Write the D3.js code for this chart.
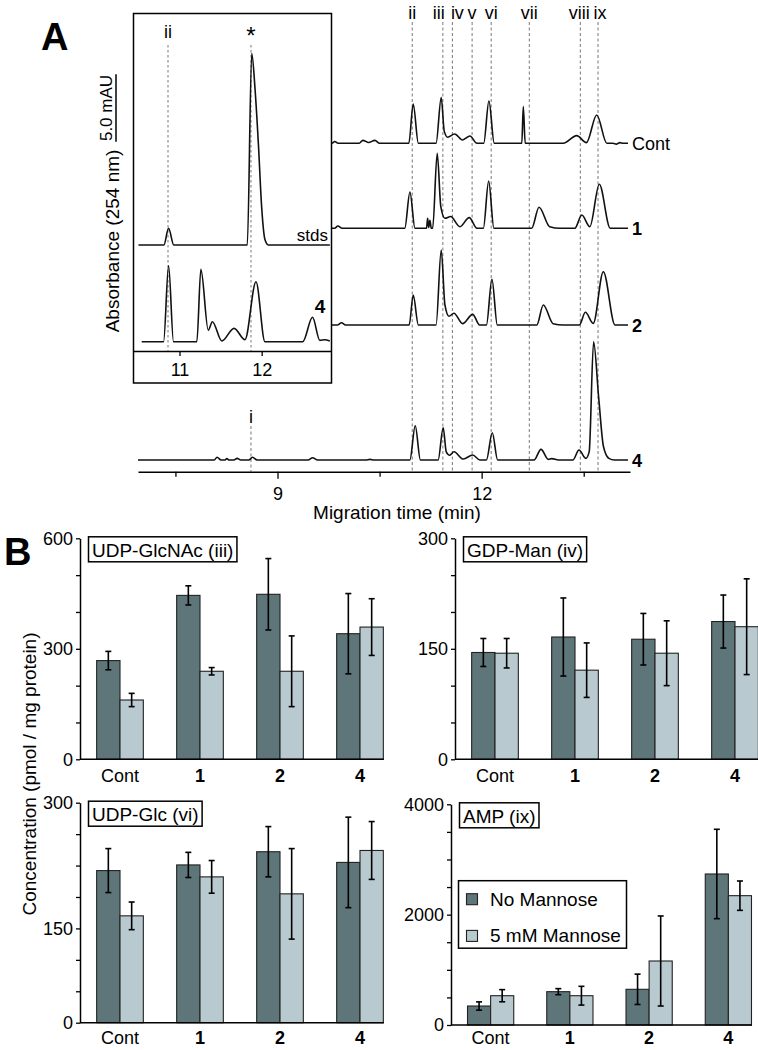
<!DOCTYPE html>
<html>
<head>
<meta charset="utf-8">
<script src="https://cdn.jsdelivr.net/npm/d3@7"></script>
<style>
  body { margin: 0; background: #fff; }
  svg { display: block; }
</style>
</head>
<body>
<div id="chart"></div>
<script>
var width  = 758;
var height = 1050;
var font   = "'Liberation Sans', Arial, Helvetica, sans-serif";

// ---------------- Panel A : electropherograms ----------------
var markerNames = ["ii", "iii", "iv", "v", "vi", "vii", "viii", "ix"];
var markerTimes = [10.98, 11.43, 11.57, 11.86, 12.14, 12.70, 13.45, 13.71];
var markerITime = 8.61;
var timeTicks   = [7.5, 9, 10.5, 12, 13.5];
var timeLabels  = [9, 12];

var traceLabels = ["Cont", "1", "2", "4"];
// [migration time (min), absorbance (mAU)]
var traceCont = [
  [6.95,0],[9.80,0],[9.843,0.13],[9.89,0],[10.20,0],[10.254,0.22],[10.34,0.06],[10.431,0.22],[10.50,0],
  [10.93,0],[10.994,2.91],[11.07,0],
  [11.33,0],[11.406,3.39],[11.45,0.9],[11.50,0.45],[11.603,0.69],[11.72,0.25],[11.828,0.54],[11.93,0],
  [12.03,0],[12.107,3.13],[12.185,0],
  [12.59,0],[12.612,2.72],[12.64,0],
  [13.20,0],[13.397,0.57],[13.54,0.05],[13.691,2.10],[13.84,0],
  [13.93,0],[13.98,-0.06],[14.03,0.05],[14.08,0],[14.151,0]
];
var trace1 = [
  [6.95,0],[9.84,0],[9.887,0.17],[9.95,0],
  [10.87,0],[10.946,2.69],[11.02,0],
  [11.19,0],[11.206,0.74],[11.222,0.05],[11.240,0.59],[11.26,0],[11.28,0],[11.347,5.56],[11.40,1.6],[11.46,0.74],
  [11.544,0.87],[11.68,0.12],[11.818,0.79],[11.93,0],
  [12.025,0],[12.103,3.50],[12.18,0],
  [12.735,0],[12.843,1.56],[13.0,0.12],[13.15,0],
  [13.37,0],[13.471,0.99],[13.59,0.12],[13.729,3.26],[13.89,0],[14.151,0]
];
var trace2 = [
  [6.95,0],[9.88,0],[9.941,0.17],[10.0,0],
  [10.935,0],[10.994,2.22],[11.07,0],
  [11.33,0],[11.406,5.56],[11.46,1.5],[11.52,0.65],[11.593,0.87],[11.72,0.1],[11.868,0.79],[11.97,0],
  [12.07,0],[12.151,3.39],[12.23,0],
  [12.81,0],[12.906,1.48],[13.05,0.1],[13.20,0],
  [13.435,0],[13.524,0.94],[13.64,0.12],[13.788,3.95],[13.96,0],[14.151,0]
];
var trace4 = [
  [6.95,0],[8.07,0],[8.112,0.2],[8.17,0],[8.23,0],[8.254,0.1],[8.29,0],[8.36,0],[8.406,0.12],[8.46,0],
  [8.58,0],[8.632,0.2],[8.70,0],
  [9.45,0],[9.515,0.17],[9.59,0],[10.30,0],[10.357,0.05],[10.42,0],
  [10.945,0],[11.024,2.54],[11.10,0],
  [11.36,0],[11.435,2.39],[11.48,0.6],[11.53,0.35],[11.593,0.61],[11.73,0.07],[11.868,0.37],[11.975,0],
  [12.07,0],[12.156,2.02],[12.235,0],
  [12.77,0],[12.872,0.79],[12.98,0.05],[13.03,0.1],[13.13,0],
  [13.34,0],[13.431,0.74],[13.53,0.12],[13.58,0.6],[13.645,8.76],[13.72,4.6],[13.79,1.0],[13.87,0.12],[13.95,0],[14.151,0]
];

// inset (standards run and sample 4)
var insetNames = ["ii", "*"];
var insetTimes = [10.86, 11.87];
var insetTicks = [11, 12];
var insetStds = [
  [10.50,0],[10.81,0],[10.867,1.24],[10.93,0],[11.825,0],[11.879,14.2],[11.92,11.5],[11.96,7.5],
  [12.0,2.8],[12.04,0.4],[12.08,0],[12.83,0]
];
var inset4 = [
  [10.54,0],[10.806,0],[10.867,5.63],[10.927,0],[11.211,0],[11.260,5.36],[11.35,0.86],[11.40,1.48],
  [11.515,0.05],[11.664,0.99],[11.797,0.15],[11.931,4.44],[12.04,0],[12.50,0],[12.619,1.81],[12.708,0.1],
  [12.768,0.15],[12.829,0.05]
];

// ---------------- Panel B : nucleotide sugar levels ----------------
var groups      = ["Cont", "1", "2", "4"];
var seriesNames = ["No Mannose", "5 mM Mannose"];

var glcnacNo     = [268, 445, 448, 341];
var glcnacNoErr  = [25, 26, 97, 109];
var glcnacMan    = [161, 239, 239, 359];
var glcnacManErr = [18, 10, 96, 77];

var gdpmanNo     = [145, 166, 163, 187];
var gdpmanNoErr  = [19, 53, 35, 36];
var gdpmanMan    = [144, 121, 144, 180];
var gdpmanManErr = [20, 37, 44, 65];

var udpglcNo     = [242, 251, 272, 255];
var udpglcNoErr  = [35, 20, 40, 72];
var udpglcMan    = [170, 232, 205, 274];
var udpglcManErr = [22, 26, 72, 46];

var ampNo     = [344, 604, 647, 2737];
var ampNoErr  = [75, 55, 275, 810];
var ampMan    = [531, 531, 1160, 2344];
var ampManErr = [110, 170, 816, 266];

var glcnacTicks = [0, 100, 200, 300, 400, 500, 600];
var glcnacTickText = ["0", "", "", "300", "", "", "600"];
var gdpmanTicks = [0, 50, 100, 150, 200, 250, 300];
var gdpmanTickText = ["0", "", "", "150", "", "", "300"];
var udpglcTicks = [0, 50, 100, 150, 200, 250, 300, 350];
var udpglcTickText = ["0", "", "", "150", "", "", "", "300"];
var ampTicks = [0, 500, 1000, 1500, 2000, 2500, 3000, 3500, 4000];
var ampTickText = ["0", "", "", "", "2000", "", "", "", "4000"];

var colDark  = "#5e7679";
var colLight = "#b8cacf";

var svg = d3.select("#chart").append("svg")
  .attr("width", width).attr("height", height)
  .attr("font-family", font);

// ================= Panel A =================
var xMain  = d3.scaleLinear().domain([6.95, 14.18]).range([138, 630]);
var xInset = d3.scaleLinear().domain([10.44, 12.85]).range([133.5, 331.5]);
var yAbs   = d3.scaleLinear().domain([0, 5]).range([0, -67.5]);   // mAU -> px offset
var traceBase = [143.3, 228.3, 325, 460];
var axisAy = 471.7;

var lineMain = d3.line().x(function(d) { return xMain(d[0]); }).y(function(d) { return yAbs(d[1]); })
  .curve(d3.curveMonotoneX);
var lineInset = d3.line().x(function(d) { return xInset(d[0]); }).y(function(d) { return yAbs(d[1]); })
  .curve(d3.curveMonotoneX);

var gA = svg.append("g");

// dashed marker lines
gA.selectAll("line.mark").data(markerTimes).enter().append("line")
  .attr("x1", function(d) { return xMain(d); }).attr("x2", function(d) { return xMain(d); })
  .attr("y1", 22).attr("y2", axisAy)
  .attr("stroke", "#777").attr("stroke-width", 1).attr("stroke-dasharray", "3,2.5");
var labelShift = [0, -4, 5, 0, 0, 0, -1, 2];
gA.selectAll("text.mark").data(markerNames).enter().append("text")
  .attr("x", function(d, i) { return xMain(markerTimes[i]) + labelShift[i]; })
  .attr("y", 18.5).attr("text-anchor", "middle").attr("font-size", 18).text(function(d) { return d; });

gA.append("line")
  .attr("x1", xMain(markerITime)).attr("x2", xMain(markerITime))
  .attr("y1", 426).attr("y2", axisAy)
  .attr("stroke", "#777").attr("stroke-width", 1).attr("stroke-dasharray", "3,2.5");
gA.append("text").attr("x", xMain(markerITime)).attr("y", 423).attr("text-anchor", "middle")
  .attr("font-size", 18).text("i");

// traces
var traces = [traceCont, trace1, trace2, trace4];
traces.forEach(function(tr, i) {
  gA.append("path").datum(tr)
    .attr("transform", "translate(0," + traceBase[i] + ")")
    .attr("d", lineMain).attr("fill", "none").attr("stroke", "#111").attr("stroke-width", 1.6)
    .attr("stroke-linejoin", "round");
  gA.append("text").attr("x", 632).attr("y", traceBase[i] + 6.5)
    .attr("font-size", 18).attr("font-weight", i === 0 ? "normal" : "bold")
    .text(traceLabels[i]);
});

// main axis
var axA = gA.append("g").attr("transform", "translate(0," + axisAy + ")")
  .call(d3.axisBottom(xMain).tickValues(timeTicks).tickSize(5).tickSizeOuter(0).tickPadding(11)
    .tickFormat(function(d) { return timeLabels.indexOf(d) >= 0 ? d : ""; }));
axA.attr("font-size", 18).attr("font-family", font);
axA.select(".domain").attr("stroke-width", 1.5);
axA.selectAll(".tick line").attr("stroke-width", 1.3)
  .attr("y2", function(d) { return timeLabels.indexOf(d) >= 0 ? 7 : 5; });
axA.selectAll(".tick text").attr("fill", "#000");

gA.append("text").attr("x", 397).attr("y", 519).attr("text-anchor", "middle")
  .attr("font-size", 19).text("Migration time (min)");

// inset
var gI = gA.append("g");
gI.append("rect").attr("x", 133.5).attr("y", 13.5).attr("width", 198).attr("height", 369.5)
  .attr("fill", "#fff").attr("stroke", "#000").attr("stroke-width", 1.5);
gI.selectAll("line.imark").data(insetTimes).enter().append("line")
  .attr("x1", function(d) { return xInset(d); }).attr("x2", function(d) { return xInset(d); })
  .attr("y1", 45).attr("y2", 351)
  .attr("stroke", "#777").attr("stroke-width", 1).attr("stroke-dasharray", "2.5,2.5");
gI.selectAll("text.imark").data(insetNames).enter().append("text")
  .attr("x", function(d, i) { return xInset(insetTimes[i]); })
  .attr("y", function(d) { return d === "*" ? 44 : 38; })
  .attr("text-anchor", "middle").attr("font-size", function(d) { return d === "*" ? 24 : 18; })
  .text(function(d) { return d; });

gI.append("path").datum(insetStds).attr("transform", "translate(0,245)")
  .attr("d", lineInset).attr("fill", "none").attr("stroke", "#111").attr("stroke-width", 1.6);
gI.append("path").datum(inset4).attr("transform", "translate(0,341.7)")
  .attr("d", lineInset).attr("fill", "none").attr("stroke", "#111").attr("stroke-width", 1.6);
gI.append("text").attr("x", 328).attr("y", 241).attr("text-anchor", "end").attr("font-size", 17).text("stds");
gI.append("text").attr("x", 320).attr("y", 313).attr("text-anchor", "middle").attr("font-size", 19)
  .attr("font-weight", "bold").text("4");

var axI = gI.append("g").attr("transform", "translate(0,351)")
  .call(d3.axisBottom(xInset).tickValues(insetTicks).tickSize(5).tickSizeOuter(0).tickPadding(7)
    .tickFormat(d3.format("d")));
axI.attr("font-size", 18).attr("font-family", font);
axI.select(".domain").attr("stroke-width", 1.5);
axI.selectAll(".tick line").attr("stroke-width", 1.3);
axI.selectAll(".tick text").attr("fill", "#000");

// scale bar + y title
gA.append("line").attr("x1", 116).attr("x2", 116)
  .attr("y1", 141.7).attr("y2", 141.7 + yAbs(5))
  .attr("stroke", "#000").attr("stroke-width", 1.5);
gA.append("text").attr("transform", "translate(112,108) rotate(-90)")
  .attr("text-anchor", "middle").attr("font-size", 17).text("5.0 mAU");
gA.append("text").attr("transform", "translate(119,241) rotate(-90)")
  .attr("text-anchor", "middle").attr("font-size", 19).text("Absorbance (254 nm)");

svg.append("text").attr("x", 41).attr("y", 49.5).attr("font-size", 38).attr("font-weight", "bold").text("A");

// ================= Panel B =================
svg.append("text").attr("x", 4).attr("y", 565).attr("font-size", 38).attr("font-weight", "bold").text("B");
svg.append("text").attr("transform", "translate(36,774) rotate(-90)")
  .attr("text-anchor", "middle").attr("font-size", 19).text("Concentration (pmol / mg protein)");

var charts = [
  { title: "UDP-GlcNAc (iii)", no: glcnacNo, noErr: glcnacNoErr, man: glcnacMan, manErr: glcnacManErr,
    max: 600, ticks: glcnacTicks, tickText: glcnacTickText, left: 80, right: 400, top: 538.3, bottom: 759.3, catY: 781.5 },
  { title: "GDP-Man (iv)", no: gdpmanNo, noErr: gdpmanNoErr, man: gdpmanMan, manErr: gdpmanManErr,
    max: 300, ticks: gdpmanTicks, tickText: gdpmanTickText, left: 455, right: 775, top: 538.3, bottom: 759.3, catY: 781.5 },
  { title: "UDP-Glc (vi)", no: udpglcNo, noErr: udpglcNoErr, man: udpglcMan, manErr: udpglcManErr,
    max: 350, ticks: udpglcTicks, tickText: udpglcTickText, left: 80, right: 400, top: 802.7, bottom: 1022.7, catY: 1043.5 },
  { title: "AMP (ix)", no: ampNo, noErr: ampNoErr, man: ampMan, manErr: ampManErr,
    max: 4000, ticks: ampTicks, tickText: ampTickText, left: 451, right: 768, top: 804.3, bottom: 1025, catY: 1043.5, legend: true }
];

charts.forEach(function(c) {
  var g = svg.append("g");
  var x0 = d3.scaleBand().domain(groups).range([c.left, c.right]).paddingInner(0.4167).paddingOuter(0.2083);
  var x1 = d3.scaleBand().domain([0, 1]).range([0, x0.bandwidth()]);
  var y  = d3.scaleLinear().domain([0, c.max]).range([c.bottom, c.top]);

  var rows = groups.map(function(k, i) {
    return { g: k, vals: [c.no[i], c.man[i]], errs: [c.noErr[i], c.manErr[i]] };
  });

  var grp = g.selectAll("g.grp").data(rows).enter().append("g")
    .attr("transform", function(d) { return "translate(" + x0(d.g) + ",0)"; });

  grp.selectAll("rect").data(function(d) { return d.vals; }).enter().append("rect")
    .attr("x", function(d, i) { return x1(i); })
    .attr("y", function(d) { return y(d); })
    .attr("width", x1.bandwidth())
    .attr("height", function(d) { return c.bottom - y(d); })
    .attr("fill", function(d, i) { return i === 0 ? colDark : colLight; })
    .attr("stroke", "#222").attr("stroke-width", 1.1);

  grp.each(function(d) {
    var gg = d3.select(this);
    d.vals.forEach(function(v, i) {
      var cx = x1(i) + x1.bandwidth() / 2;
      var hi = y(v + d.errs[i]), lo = y(v - d.errs[i]);
      gg.append("line").attr("x1", cx).attr("x2", cx).attr("y1", hi).attr("y2", lo)
        .attr("stroke", "#000").attr("stroke-width", 1.6);
      [hi, lo].forEach(function(yy) {
        gg.append("line").attr("x1", cx - 3).attr("x2", cx + 3).attr("y1", yy).attr("y2", yy)
          .attr("stroke", "#000").attr("stroke-width", 1.6);
      });
    });
  });

  // category labels
  g.selectAll("text.cat").data(groups).enter().append("text")
    .attr("x", function(d) { return x0(d) + x0.bandwidth() / 2; })
    .attr("y", c.catY).attr("text-anchor", "middle").attr("font-size", 18)
    .attr("font-weight", function(d) { return d === "Cont" ? "normal" : "bold"; })
    .text(function(d) { return d; });

  // x axis line
  g.append("line").attr("x1", c.left).attr("x2", x0(groups[groups.length - 1]) + x0.bandwidth() + 0.5)
    .attr("y1", c.bottom).attr("y2", c.bottom).attr("stroke", "#000").attr("stroke-width", 1.5);

  // y axis
  var ay = g.append("g").attr("transform", "translate(" + c.left + ",0)")
    .call(d3.axisLeft(y).tickValues(c.ticks).tickSize(4).tickSizeOuter(0).tickPadding(3)
      .tickFormat(function(d, i) { return c.tickText[i]; }));
  ay.attr("font-size", 18).attr("font-family", font);
  ay.select(".domain").attr("stroke-width", 1.5);
  ay.selectAll(".tick line").attr("stroke-width", 1.3);
  ay.selectAll(".tick text").attr("fill", "#000");

  // title box
  var t = g.append("text").attr("x", c.left + 12).attr("y", c.top + 18.5).attr("font-size", 19).text(c.title);
  var bb = t.node().getBBox();
  g.insert("rect", "text").attr("x", bb.x - 3.5).attr("y", c.top - 1.5)
    .attr("width", bb.width + 7).attr("height", 25)
    .attr("fill", "#fff").attr("stroke", "#000").attr("stroke-width", 1.5);

  if (c.legend) {
    var lg = g.append("g").attr("transform", "translate(" + (c.left + 7.5) + "," + 880.7 + ")");
    lg.append("rect").attr("width", 168).attr("height", 67.5)
      .attr("fill", "#fff").attr("stroke", "#000").attr("stroke-width", 1.5);
    seriesNames.forEach(function(s, i) {
      var cy = 18.5 + i * 36.7;
      lg.append("rect").attr("x", 8).attr("y", cy - 5.5).attr("width", 11).attr("height", 11)
        .attr("fill", i === 0 ? colDark : colLight).attr("stroke", "#222").attr("stroke-width", 1.1);
      lg.append("text").attr("x", 31.5).attr("y", cy + 6.5).attr("font-size", 19).text(s);
    });
  }
});
</script>
</body>
</html>
